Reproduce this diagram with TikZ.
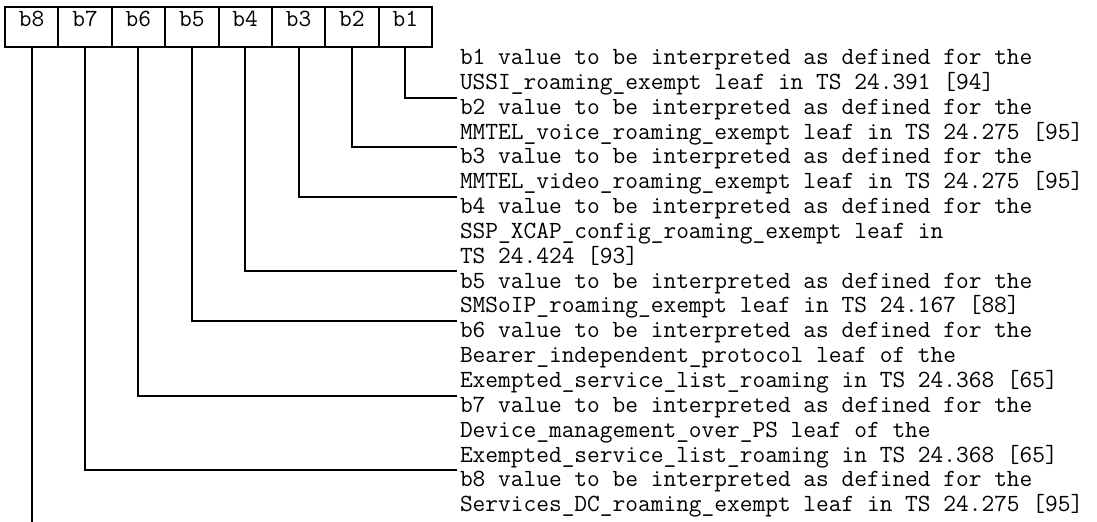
\documentclass[tikz,border=0pt]{standalone}
\usepackage{fontspec}
\newcommand\dlines[1]{\vtop{\lineskiplimit=-20pt\baselineskip=12.425pt #1}}
\begin{document}
\begin{tikzpicture}[x=0.5pt,y=-0.5pt,line width=1pt,
  bitbox/.style={draw,rectangle,minimum width=26.69pt,minimum height=20pt,inner sep=0pt,
    text height=7pt,text depth=7pt,font=\ttfamily\fontsize{12.35pt}{12.425pt}\selectfont},
  desc/.style={anchor=base west,inner sep=0pt,font=\ttfamily\fontsize{12.35pt}{12.425pt}\selectfont},
  conn/.style={draw,line width=1pt}]
\useasboundingbox (0,0) rectangle (1097,522);
\fill[white] (0,0) rectangle (1097,522);
% bit boxes
\node[bitbox] (b8) at (31.69,27) {b8};
\node[bitbox] (b7) at (85.06,27) {b7};
\node[bitbox] (b6) at (138.44,27) {b6};
\node[bitbox] (b5) at (191.81,27) {b5};
\node[bitbox] (b4) at (245.19,27) {b4};
\node[bitbox] (b3) at (298.56,27) {b3};
\node[bitbox] (b2) at (351.94,27) {b2};
\node[bitbox] (b1) at (405.31,27) {b1};
% descriptions
\node[desc] (d1) at (459,64.5) {\dlines{\hbox{b1 value to be interpreted as defined for the}\hbox{USSI\_roaming\_exempt leaf in TS 24.391 [94]}}};
\node[desc] (d2) at (459,114.2) {\dlines{\hbox{b2 value to be interpreted as defined for the}\hbox{MMTEL\_voice\_roaming\_exempt leaf in TS 24.275 [95]}}};
\node[desc] (d3) at (459,163.9) {\dlines{\hbox{b3 value to be interpreted as defined for the}\hbox{MMTEL\_video\_roaming\_exempt leaf in TS 24.275 [95]}}};
\node[desc] (d4) at (459,213.6) {\dlines{\hbox{b4 value to be interpreted as defined for the}\hbox{SSP\_XCAP\_config\_roaming\_exempt leaf in}\hbox{TS 24.424 [93]}}};
\node[desc] (d5) at (459,288.15) {\dlines{\hbox{b5 value to be interpreted as defined for the}\hbox{SMSoIP\_roaming\_exempt leaf in TS 24.167 [88]}}};
\node[desc] (d6) at (459,337.85) {\dlines{\hbox{b6 value to be interpreted as defined for the}\hbox{Bearer\_independent\_protocol leaf of the}\hbox{Exempted\_service\_list\_roaming in TS 24.368 [65]}}};
\node[desc] (d7) at (459,412.4) {\dlines{\hbox{b7 value to be interpreted as defined for the}\hbox{Device\_management\_over\_PS leaf of the}\hbox{Exempted\_service\_list\_roaming in TS 24.368 [65]}}};
\node[desc] (d8) at (459,487.0) {\dlines{\hbox{b8 value to be interpreted as defined for the}\hbox{Services\_DC\_roaming\_exempt leaf in TS 24.275 [95]}}};
% connector ends
\coordinate (e1) at (457,98);
\coordinate (e2) at (457,147);
\coordinate (e3) at (457,197);
\coordinate (e4) at (457,271);
\coordinate (e5) at (457,321);
\coordinate (e6) at (457,396);
\coordinate (e7) at (457,470);
\coordinate (e8) at (31.69,522);
% connectors
\draw[conn] (b1.south) |- (e1);
\draw[conn] (b2.south) |- (e2);
\draw[conn] (b3.south) |- (e3);
\draw[conn] (b4.south) |- (e4);
\draw[conn] (b5.south) |- (e5);
\draw[conn] (b6.south) |- (e6);
\draw[conn] (b7.south) |- (e7);
\draw[conn] (b8.south) -- (e8);
\end{tikzpicture}
\end{document}
